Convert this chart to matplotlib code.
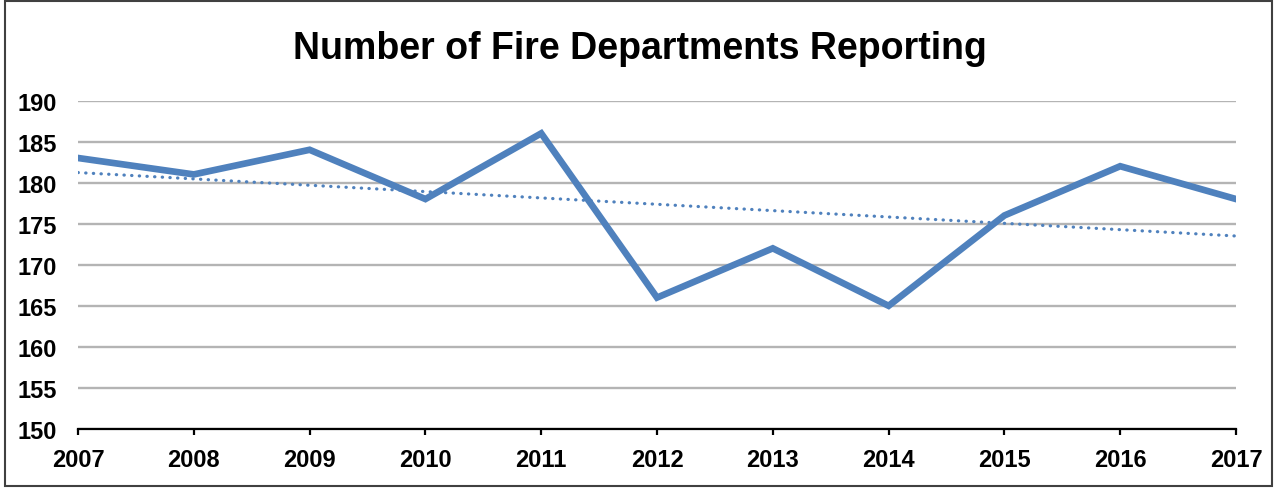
import numpy as np
import matplotlib.pyplot as plt
from matplotlib.patches import Rectangle

# Data
years = [2007, 2008, 2009, 2010, 2011, 2012, 2013, 2014, 2015, 2016, 2017]
departments = [183, 181, 184, 178, 186, 166, 172, 165, 176, 182, 178]
y_ticks = [150, 155, 160, 165, 170, 175, 180, 185, 190]

plt.rcParams['font.family'] = ['Liberation Sans', 'DejaVu Sans']

fig = plt.figure(figsize=(12.75, 4.89), dpi=100)
ax = fig.add_axes([0.0612, 0.1207, 0.9082, 0.6717])

line_color = '#4F81BD'
ax.plot(years, departments, color=line_color, lw=4.8, solid_joinstyle='miter', zorder=3)

# linear trendline
slope, intercept = np.polyfit(years, departments, 1)
trend = [slope * x + intercept for x in years]
ax.plot(years, trend, color=line_color, lw=2.3, linestyle=(0, (0.1, 2.3)),
        dash_capstyle='round', zorder=2)

ax.set_xlim(years[0], years[-1])
ax.set_ylim(150, 190)
ax.set_xticks(years)
ax.set_yticks(y_ticks)
ax.grid(axis='y', color='#B4B4B4', lw=1.7)
ax.set_axisbelow(True)

for side in ['top', 'right', 'left']:
    ax.spines[side].set_visible(False)
ax.spines['bottom'].set_linewidth(1.6)
ax.spines['bottom'].set_zorder(4)

ax.tick_params(axis='x', length=4.5, width=1.6, direction='out', pad=9)
ax.tick_params(axis='y', length=0, pad=15)
for lbl in ax.get_xticklabels() + ax.get_yticklabels():
    lbl.set_fontsize(17)
    lbl.set_fontweight('bold')

fig.text(0.502, 1 - 59 / 489, 'Number of Fire Departments Reporting', ha='center',
         va='baseline', fontsize=27, fontweight='bold')

# outer chart border
fig.patches.append(Rectangle((0.004, 0.005), 0.994, 0.99, transform=fig.transFigure,
                             fill=False, edgecolor='#404040', lw=1.5))

fig.savefig('out.png', dpi=100)
